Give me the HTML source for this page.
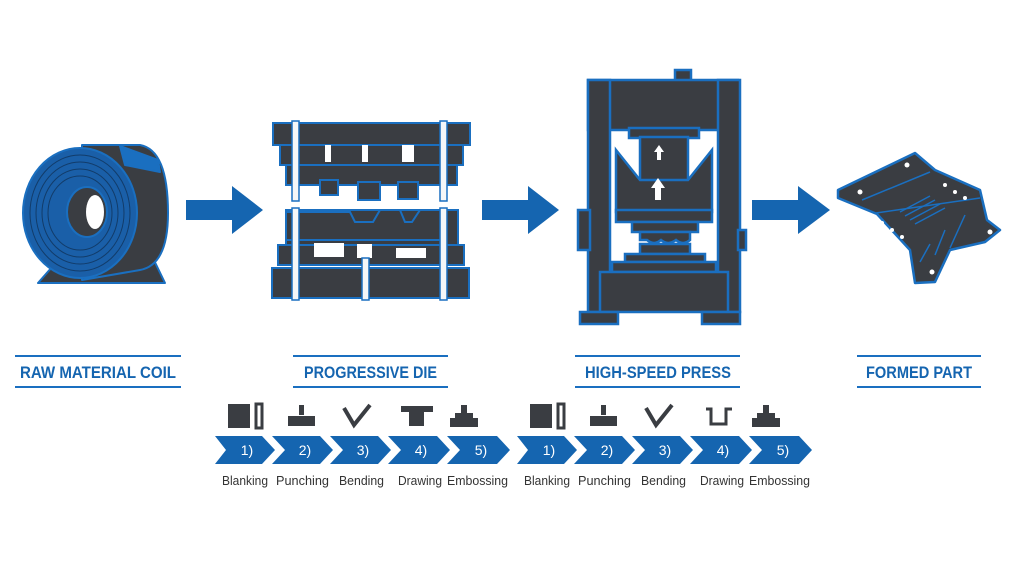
<!DOCTYPE html>
<html><head><style>
body{margin:0;background:#fff;}
svg{display:block}
text{font-family:"Liberation Sans Narrow","Liberation Sans",sans-serif;}
</style></head><body>
<svg width="1024" height="573" viewBox="0 0 1024 573">
<!-- coil -->
<g stroke="#1a6fc0" stroke-width="2" stroke-linejoin="round">
<path d="M60 258 L38 283 L165 283 L150 252 Z" fill="#3a3d42"/>
<path d="M82 145 L140 145 Q168 150 168 213 Q168 265 140 270 L82 280 Z" fill="#3a3d42"/>
<path d="M120 146 L158 160 L160 172 L125 165 Z" fill="#1a6fc0"/>
<ellipse cx="80" cy="213" rx="57" ry="65" fill="#1a5fa8"/>
<g fill="none" stroke="#123c6a" stroke-width="1">
<ellipse cx="80" cy="213" rx="50" ry="58"/><ellipse cx="80" cy="213" rx="44" ry="51"/>
<ellipse cx="80" cy="213" rx="38" ry="44"/><ellipse cx="80" cy="213" rx="32" ry="37"/>
</g>
<ellipse cx="87" cy="212" rx="20" ry="25" fill="#3a3d42"/>
<ellipse cx="95" cy="212" rx="9" ry="17" fill="#fff" stroke="none"/>
</g>
<!-- big arrows -->
<g fill="#1565b0">
<path d="M186 200 H232 V186 L263 210 L232 234 V220 H186Z"/>
<path d="M482 200 H528 V186 L559 210 L528 234 V220 H482Z"/>
<path d="M752 200 H798 V186 L830 210 L798 234 V220 H752Z"/>
</g>
<!-- progressive die -->
<g fill="#3a3d42" stroke="#1a6fc0" stroke-width="2">
<rect x="273" y="123" width="197" height="22"/>
<rect x="280" y="145" width="183" height="20"/>
<rect x="286" y="165" width="171" height="20"/>
<rect x="320" y="180" width="18" height="15"/><rect x="358" y="182" width="22" height="18"/><rect x="398" y="182" width="20" height="17"/>
<rect x="286" y="210" width="172" height="35"/>
<path d="M286 212 H350 L355 222 H373 L380 210 H400 L405 222 H412 L420 210 H444 V240 H286Z"/>
<rect x="278" y="245" width="186" height="20"/>
<rect x="272" y="268" width="197" height="30"/>
</g>
<g fill="#fff"><rect x="325" y="145" width="6" height="17"/><rect x="362" y="145" width="6" height="17"/><rect x="402" y="145" width="12" height="17"/>
<rect x="314" y="243" width="30" height="14"/><rect x="357" y="244" width="15" height="14"/><rect x="396" y="248" width="30" height="10"/></g>
<g fill="#f4f6f8" stroke="#1a6fc0" stroke-width="1.5">
<rect x="292" y="121" width="7" height="80"/><rect x="440" y="121" width="7" height="80"/>
<rect x="292" y="208" width="7" height="92"/><rect x="440" y="208" width="7" height="92"/><rect x="362" y="258" width="7" height="42"/>
</g>
<!-- press -->
<g fill="#3a3d42" stroke="#1a6fc0" stroke-width="2.5">
<rect x="675" y="70" width="16" height="14"/>
<rect x="588" y="80" width="150" height="50"/>
<rect x="588" y="80" width="22" height="232"/><rect x="718" y="80" width="22" height="232"/>
<rect x="578" y="210" width="12" height="40"/><rect x="738" y="230" width="8" height="20"/>
<rect x="629" y="128" width="70" height="10"/>
<rect x="640" y="137" width="48" height="50"/>
<path d="M616 150 L640 180 H688 L712 150 V212 H616Z"/>
<rect x="616" y="210" width="96" height="12"/>
<rect x="632" y="222" width="66" height="10"/>
<path d="M640 232 H690 V240 Q683 246 676 240 Q668 246 661 240 Q654 246 647 240 H640Z"/>
<rect x="640" y="244" width="50" height="10"/>
<rect x="625" y="254" width="80" height="8"/><rect x="612" y="262" width="104" height="10"/>
<rect x="600" y="272" width="128" height="40"/>
<rect x="580" y="312" width="38" height="12"/><rect x="702" y="312" width="38" height="12"/>
</g>
<g fill="#fff"><path d="M657 160 V152 H654 L659 145 L664 152 H661 V160Z"/><path d="M655 200 V188 H651 L658 178 L665 188 H661 V200Z"/></g>
<!-- formed part -->
<g stroke="#1a6fc0" stroke-width="2.5" fill="#3a3d42" stroke-linejoin="round">
<path d="M838 190 L915 153 L935 170 L980 190 L987 220 L1000 230 L985 242 L950 250 L935 282 L915 283 L910 250 L877 214 L838 198 Z"/>
</g>
<g stroke="#1a6fc0" stroke-width="1.5" fill="none">
<path d="M862 200 L930 172"/><path d="M876 213 L980 198"/>
<path d="M900 212 L930 196 M905 216 L935 200 M910 220 L940 204 M915 224 L945 208"/>
<path d="M920 262 L930 244 M935 255 L945 230 M950 248 L965 215"/>
</g>
<g fill="#fff"><circle cx="860" cy="192" r="2.5"/><circle cx="907" cy="165" r="2.5"/><circle cx="945" cy="185" r="2"/><circle cx="955" cy="192" r="2"/><circle cx="965" cy="198" r="2"/><circle cx="882" cy="223" r="2"/><circle cx="892" cy="230" r="2"/><circle cx="902" cy="237" r="2"/><circle cx="990" cy="232" r="2.5"/><circle cx="960" cy="253" r="2"/><circle cx="932" cy="272" r="2.5"/></g>
<!-- labels -->
<g stroke="#1a6fc0" stroke-width="2">
<path d="M15 356 H181 M15 387 H181"/>
<path d="M293 356 H448 M293 387 H448"/>
<path d="M575 356 H740 M575 387 H740"/>
<path d="M857 356 H981 M857 387 H981"/>
</g>
<g fill="#1565b0" font-weight="bold" font-size="17" lengthAdjust="spacingAndGlyphs">
<text x="20" y="378" textLength="156" lengthAdjust="spacingAndGlyphs">RAW MATERIAL COIL</text>
<text x="304" y="378" textLength="133" lengthAdjust="spacingAndGlyphs">PROGRESSIVE DIE</text>
<text x="585" y="378" textLength="146" lengthAdjust="spacingAndGlyphs">HIGH-SPEED PRESS</text>
<text x="866" y="378" textLength="106" lengthAdjust="spacingAndGlyphs">FORMED PART</text>
</g>
<!-- chevrons -->
<g id="row">
<g fill="#1565b0">
<path d="M215 436 H262 L275 450 L262 464 H215 L226 450Z"/>
<path d="M272 436 H320 L333 450 L320 464 H272 L285 450Z"/>
<path d="M330 436 H378 L391 450 L378 464 H330 L343 450Z"/>
<path d="M388 436 H437 L450 450 L437 464 H388 L401 450Z"/>
<path d="M447 436 H497 L510 450 L497 464 H447 L460 450Z"/>
</g>
<g fill="#fff" font-size="14" text-anchor="middle">
<text x="247" y="455">1)</text><text x="305" y="455">2)</text><text x="363" y="455">3)</text><text x="421" y="455">4)</text><text x="481" y="455">5)</text>
</g>
<g fill="#333" font-size="13">
<text x="222" y="485" textLength="46" lengthAdjust="spacingAndGlyphs">Blanking</text>
<text x="276" y="485" textLength="53" lengthAdjust="spacingAndGlyphs">Punching</text>
<text x="339" y="485" textLength="45" lengthAdjust="spacingAndGlyphs">Bending</text>
<text x="398" y="485" textLength="44" lengthAdjust="spacingAndGlyphs">Drawing</text>
<text x="447" y="485" textLength="61" lengthAdjust="spacingAndGlyphs">Embossing</text>
</g>
<g fill="#3a3d42">
<rect x="228" y="404" width="22" height="24"/><rect x="256" y="404" width="6" height="24" fill="none" stroke="#3a3d42" stroke-width="3"/>
<rect x="299" y="405" width="5" height="10"/><rect x="288" y="416" width="27" height="10"/>
<path d="M344 408 L354 425 L370 405" fill="none" stroke="#3a3d42" stroke-width="4"/>
<rect x="461" y="405" width="6" height="8"/><rect x="455" y="413" width="18" height="5"/><rect x="450" y="418" width="28" height="9"/>
</g>
</g>
<use href="#row" x="302"/>
<rect x="398" y="404" width="34" height="24" fill="#fff"/>
<g fill="#3a3d42"><rect x="401" y="406" width="32" height="6"/><rect x="409" y="412" width="15" height="14"/></g>
<rect x="700" y="404" width="34" height="24" fill="#fff"/>
<path d="M706 409 H711 V424 H726 V409 H732" fill="none" stroke="#3a3d42" stroke-width="3"/>
</svg>
</body></html>
